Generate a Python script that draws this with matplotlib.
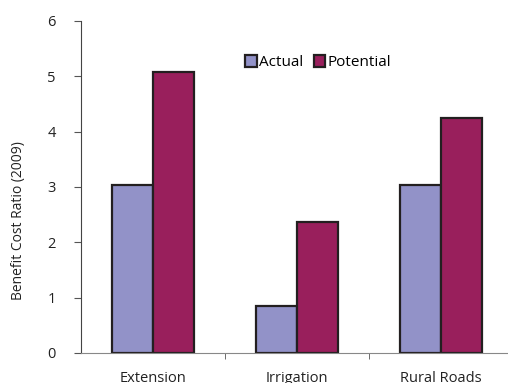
import numpy as np
import matplotlib
matplotlib.use("Agg")
import matplotlib.pyplot as plt

categories = ["Extension", "Irrigation", "Rural Roads"]
actual = [3.04, 0.85, 3.04]
potential = [5.07, 2.36, 4.25]

plt.rcParams['font.family'] = ['Open Sans', 'DejaVu Sans']

fig = plt.figure(figsize=(5.08, 3.83), dpi=100)
ax = fig.add_axes([81/508, 30/383, 432/508, 332/383])

x = np.arange(len(categories))
w = 0.285
ax.bar(x - w/2, actual, w, color='#9292c8', edgecolor='#231f20', linewidth=1.6, label='Actual')
ax.bar(x + w/2, potential, w, color='#991f5c', edgecolor='#231f20', linewidth=1.6, label='Potential')

ax.set_xlim(-0.5, 2.5)
ax.set_ylim(0, 6)
ax.set_yticks(range(7))
ax.set_xticks(x)
ax.set_xticklabels(categories, fontsize=10.5, color='#222222')
ax.set_xticks([0.5, 1.5], minor=True)
ax.tick_params(axis='x', which='major', length=0, pad=13)
ax.tick_params(axis='x', which='minor', length=4, color='#555555', direction='out')
ax.tick_params(axis='y', length=5, labelsize=10.5, labelcolor='#222222', color='#555555', pad=13)

ax.spines['top'].set_visible(False)
ax.spines['right'].set_visible(False)
ax.spines['bottom'].set_color('#888888')
ax.spines['left'].set_color('#444444')

fig.text(19/508, 1 - 221/383, "Benefit Cost Ratio (2009)", rotation=90,
         ha='center', va='center', fontsize=10, color='#222222')

ax.legend(loc='upper left', bbox_to_anchor=(0.366, 0.915), ncol=2, frameon=False,
          fontsize=11, handlelength=0.75, handleheight=0.75, handletextpad=0.15,
          columnspacing=0.7, borderaxespad=0)

fig.savefig("out.png", dpi=100)
